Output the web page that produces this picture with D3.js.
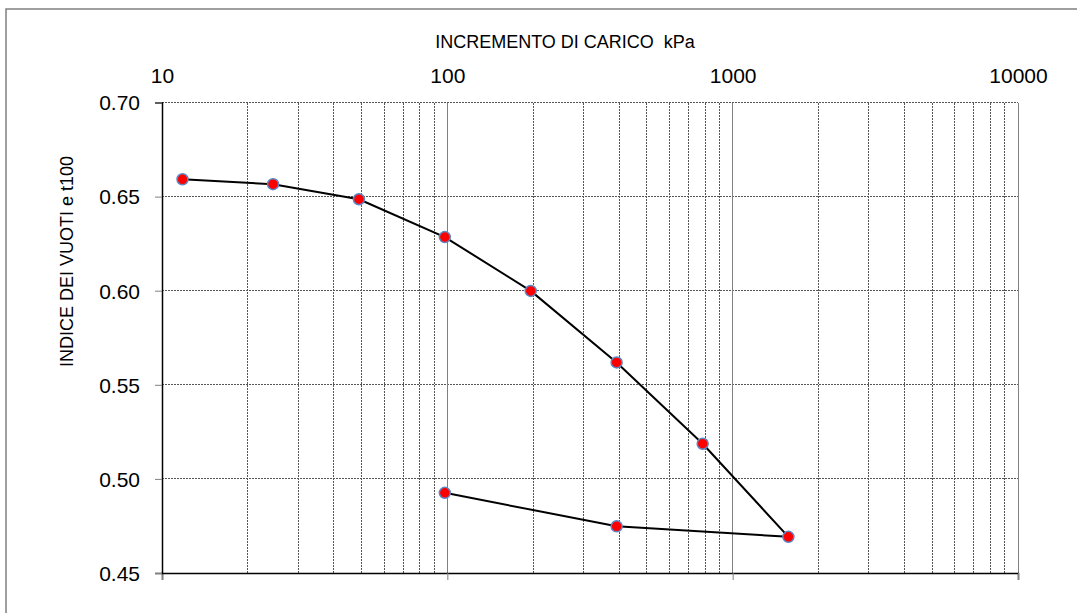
<!DOCTYPE html>
<html>
<head>
<meta charset="utf-8">
<script src="https://cdn.jsdelivr.net/npm/d3@7"></script>
<style>
  html, body { margin: 0; padding: 0; background: #fff; }
  svg { display: block; font-family: "Liberation Sans", Arial, sans-serif; }
</style>
</head>
<body>
<svg id="chart" width="1077" height="613"></svg>
<script>
// ---- data ----
const loads = [11.8, 24.5, 49, 98, 196, 392, 785, 1568, 392, 98];          // kPa
const voidRatio = [0.6592, 0.6566, 0.6486, 0.6285, 0.5999, 0.5619, 0.5187, 0.4692, 0.4748, 0.4926];
const xMajorTicks = [10, 100, 1000, 10000];
const yTicks = [0.45, 0.50, 0.55, 0.60, 0.65, 0.70];
const xTitle = "INCREMENTO DI CARICO  kPa";
const yTitle = "INDICE DEI VUOTI e t100";

(function () {
const svg = d3.select("#chart");
const pLeft = 162, pRight = 1018, pTop = 102.5, pBottom = 573;

// outer frame
svg.append("rect")
  .attr("x", 6).attr("y", 9).attr("width", 1200).attr("height", 800)
  .attr("fill", "none").attr("stroke", "#808080").attr("stroke-width", 1.5);

const x = d3.scaleLog().domain([10, 10000]).range([pLeft, pRight]);
const y = d3.scaleLinear().domain([0.45, 0.70]).range([pBottom, pTop]);

// minor vertical gridlines
const minor = [];
for (let dec = 10; dec < 10000; dec *= 10) {
  for (let k = 2; k <= 9; k++) minor.push(dec * k);
}
svg.append("g").selectAll("line").data(minor).join("line")
  .attr("x1", d => x(d)).attr("x2", d => x(d))
  .attr("y1", pTop).attr("y2", pBottom)
  .attr("stroke", "#555").attr("stroke-width", 1).attr("stroke-dasharray", "2,1")
  .attr("shape-rendering", "crispEdges");

// horizontal gridlines
svg.append("g").selectAll("line").data(yTicks.filter(d => d > 0.45)).join("line")
  .attr("x1", pLeft).attr("x2", pRight)
  .attr("y1", d => y(d)).attr("y2", d => y(d))
  .attr("stroke", "#555").attr("stroke-width", 1).attr("stroke-dasharray", "2,1")
  .attr("shape-rendering", "crispEdges");

// major vertical gridlines (solid gray)
svg.append("g").selectAll("line").data(xMajorTicks.slice(1)).join("line")
  .attr("x1", d => x(d)).attr("x2", d => x(d))
  .attr("y1", pTop).attr("y2", pBottom)
  .attr("stroke", "#808080").attr("stroke-width", 1)
  .attr("shape-rendering", "crispEdges");

// bottom axis (ticks only)
const gB = svg.append("g").attr("transform", `translate(0,${pBottom})`)
  .call(d3.axisBottom(x).tickValues(xMajorTicks).tickSize(7).tickFormat(""));
gB.select(".domain").attr("stroke", "#000").attr("stroke-width", 1.5);
gB.selectAll(".tick line").attr("stroke", "#808080");

// top axis labels
const gT = svg.append("g").attr("transform", `translate(0,${pTop})`)
  .call(d3.axisTop(x).tickValues(xMajorTicks).tickSize(0).tickPadding(19.5).tickFormat(d3.format("d")));
gT.select(".domain").remove();
gT.selectAll("text").attr("font-size", 21).attr("fill", "#000")
  .attr("font-family", "Liberation Sans, Arial, sans-serif");

// left axis
const gL = svg.append("g").attr("transform", `translate(${pLeft},0)`)
  .call(d3.axisLeft(y).tickValues(yTicks).tickSize(7).tickPadding(15).tickFormat(d3.format(".2f")));
gL.select(".domain").attr("stroke", "#000").attr("stroke-width", 1.5);
gL.selectAll(".tick line").attr("stroke", "#808080");
gL.selectAll("text").attr("font-size", 21).attr("fill", "#000").attr("dy", "0.35em")
  .attr("font-family", "Liberation Sans, Arial, sans-serif");

// titles
svg.append("text")
  .attr("x", 565).attr("y", 48)
  .attr("text-anchor", "middle").attr("font-size", 18).attr("fill", "#000")
  .style("white-space", "pre")
  .text(xTitle);
svg.append("text")
  .attr("transform", "translate(73,261.5) rotate(-90)")
  .attr("text-anchor", "middle").attr("font-size", 18).attr("fill", "#000")
  .text(yTitle);

// series
const pts = loads.map((d, i) => [d, voidRatio[i]]);
svg.append("path")
  .datum(pts)
  .attr("fill", "none").attr("stroke", "#000").attr("stroke-width", 2)
  .attr("stroke-linejoin", "round")
  .attr("d", d3.line().x(d => x(d[0])).y(d => y(d[1])));

svg.append("g").selectAll("circle").data(pts).join("circle")
  .attr("cx", d => x(d[0])).attr("cy", d => y(d[1])).attr("r", 5.5)
  .attr("fill", "#ff0000").attr("stroke", "#5b87c5").attr("stroke-width", 1.5);
})();
</script>
</body>
</html>
